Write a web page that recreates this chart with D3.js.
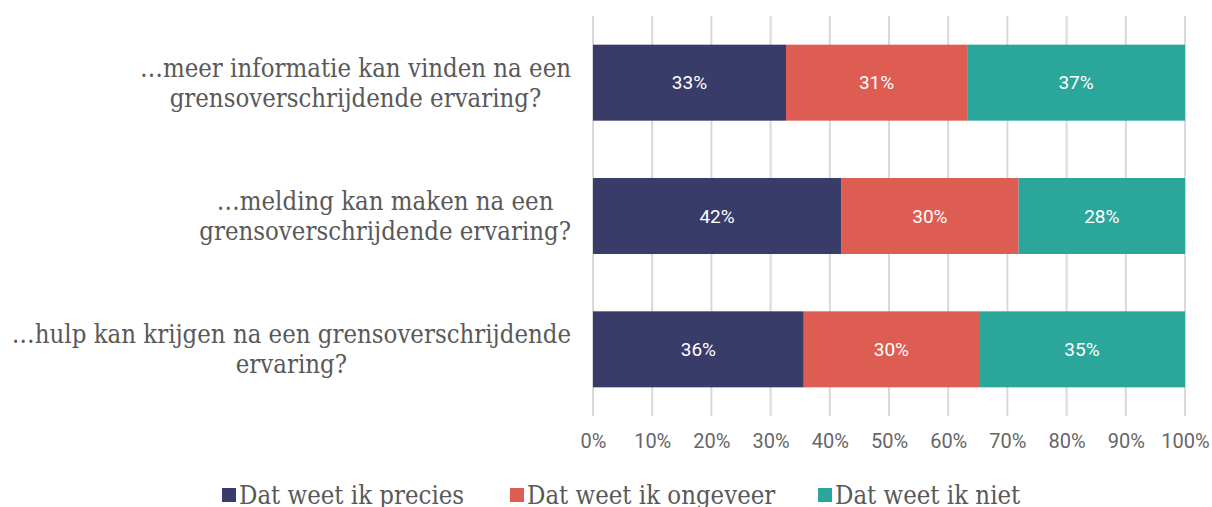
<!DOCTYPE html>
<html>
<head>
<meta charset="utf-8">
<script src="https://cdn.jsdelivr.net/npm/d3@7"></script>
<style>
  body { margin: 0; background: #fff; }
  .catLabel { font-family: "DejaVu Serif Condensed", "DejaVu Serif", serif; font-stretch: condensed; font-size: 25.5px; fill: #595959; }
  .tick text { font-family: Roboto, sans-serif; font-size: 20px; fill: #666; }
  .barLabel { font-family: Roboto, sans-serif; font-size: 19px; fill: #fff; }
  .legendText { font-family: "DejaVu Serif Condensed", "DejaVu Serif", serif; font-stretch: condensed; font-size: 25.5px; fill: #595959; }
</style>
</head>
<body>
<script>
(function(){

//data
var categories = [
  ["…meer informatie kan vinden na een", "grensoverschrijdende ervaring?"],
  ["…melding kan maken na een", "grensoverschrijdende ervaring?"],
  ["…hulp kan krijgen na een grensoverschrijdende", "ervaring?"]
];
var seriesNames = ["Dat weet ik precies", "Dat weet ik ongeveer", "Dat weet ik niet"];
var precies = [32.6, 41.9, 35.6];
var ongeveer = [30.6, 30.0, 29.6];
var niet = [36.8, 28.1, 34.8];
var barLabels = [["33%", "31%", "37%"], ["42%", "30%", "28%"], ["36%", "30%", "35%"]];
var tickValues = [0, 10, 20, 30, 40, 50, 60, 70, 80, 90, 100];
var colors = ["#393b69", "#de5d52", "#2ba69b"];

var width = 1212, height = 507;
var svg = d3.select("body").append("svg")
    .attr("width", width)
    .attr("height", height);

var x = d3.scaleLinear().domain([0, 100]).range([593, 1185]);
var y = d3.scaleBand().domain(d3.range(categories.length)).range([16, 416]).paddingInner(0.43).paddingOuter(0.215);

//gridlines
svg.append("g").selectAll("line")
    .data(tickValues)
    .enter().append("line")
    .attr("x1", function(d){ return x(d); })
    .attr("x2", function(d){ return x(d); })
    .attr("y1", 16)
    .attr("y2", 416)
    .attr("stroke", "#d9d9d9")
    .attr("stroke-width", 2);

//stack data
var rows = categories.map(function(c, i){
  return { i: i, v: [precies[i], ongeveer[i], niet[i]] };
});
var segs = [];
rows.forEach(function(r){
  var acc = 0;
  r.v.forEach(function(v, s){
    segs.push({ row: r.i, s: s, x0: acc, x1: acc + v, label: barLabels[r.i][s] });
    acc += v;
  });
});

svg.append("g").selectAll("rect")
    .data(segs)
    .enter().append("rect")
    .attr("x", function(d){ return x(d.x0); })
    .attr("width", function(d){ return x(d.x1) - x(d.x0); })
    .attr("y", function(d){ return y(d.row); })
    .attr("height", y.bandwidth())
    .attr("fill", function(d){ return colors[d.s]; });

svg.append("g").selectAll("text")
    .data(segs)
    .enter().append("text")
    .attr("class", "barLabel")
    .attr("x", function(d){ return (x(d.x0) + x(d.x1)) / 2; })
    .attr("y", function(d){ return y(d.row) + y.bandwidth() / 2; })
    .attr("dy", "0.35em")
    .attr("text-anchor", "middle")
    .text(function(d){ return d.label; });

//x axis labels
var xAxis = d3.axisBottom(x).tickValues(tickValues).tickSize(0).tickPadding(0)
    .tickFormat(function(d){ return d + "%"; });
var ax = svg.append("g").attr("transform", "translate(0,434)").call(xAxis);
ax.select(".domain").remove();

//category labels, centred lines, block right-aligned
categories.forEach(function(lines, i){
  var g = svg.append("g");
  var cy = y(i) + y.bandwidth() / 2;
  var texts = lines.map(function(t, k){
    return g.append("text")
      .attr("class", "catLabel")
      .attr("text-anchor", "middle")
      .attr("y", cy + (k - (lines.length - 1) / 2) * 30)
      .attr("dy", "0.35em")
      .text(t);
  });
  var maxW = d3.max(texts, function(t){ return t.node().getComputedTextLength(); });
  var cx = 571 - maxW / 2;
  texts.forEach(function(t){ t.attr("x", cx); });
});

//legend
var legendX = [222, 510, 818];
var lg = svg.append("g");
seriesNames.forEach(function(n, i){
  lg.append("rect")
    .attr("x", legendX[i]).attr("y", 488)
    .attr("width", 14).attr("height", 14)
    .attr("fill", colors[i]);
  lg.append("text")
    .attr("class", "legendText")
    .attr("x", legendX[i] + 17).attr("y", 504)
    .text(n);
});

})();
</script>
</body>
</html>
